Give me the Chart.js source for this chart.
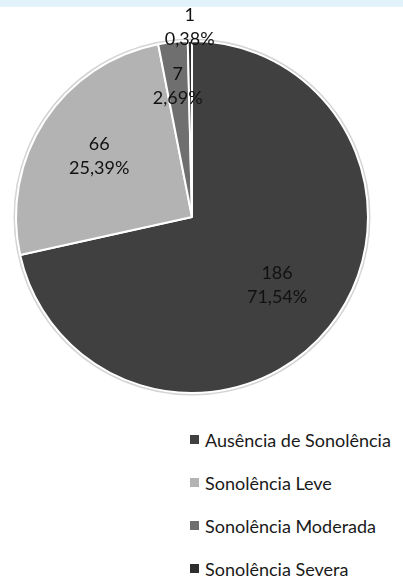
<!DOCTYPE html>
<html>
<head>
<meta charset="utf-8">
<script src="https://cdn.jsdelivr.net/npm/chart.js@4.4.1/dist/chart.umd.min.js"></script>
<style>
  body { margin: 0; background: #fff; width: 403px; height: 577px; overflow: hidden; position: relative; font-family: Lato, "Open Sans", sans-serif; }
  #faixa { position: absolute; left: 0; top: 0; width: 403px; height: 7px; background: #e1f2fb; }
  #caixa { position: absolute; left: 0; top: 0; width: 403px; height: 410px; }
  #legenda { position: absolute; left: 190px; top: 418px; }
  .item { height: 43px; display: flex; align-items: center; font-size: 18px; color: #1a1a1a; white-space: nowrap; }
  .quad { width: 9px; height: 9px; margin-right: 6px; }
</style>
</head>
<body>
<div id="caixa"><canvas id="pizza" width="403" height="410"></canvas></div>
<div id="faixa"></div>
<div id="legenda"></div>
<script>
// dados
const categorias = ["Ausência de Sonolência", "Sonolência Leve", "Sonolência Moderada", "Sonolência Severa"];
const valores = [186, 66, 7, 1];
const percentuais = ["71,54%", "25,39%", "2,69%", "0,38%"];
const cores = ["#404040", "#b3b3b3", "#6f6f6f", "#2e2e2e"];

// distância do rótulo ao centro (fração do raio)
const posRotulo = [0.62, 0.63, 0.75, 1.08];

/* --- rótulos de valor + percentual --- */
const rotulos = {
  id: "rotulos",
  afterDatasetsDraw(chart) {
    const ctx = chart.ctx;
    const meta = chart.getDatasetMeta(0);
    ctx.save();
    ctx.font = "18px Lato";
    ctx.fillStyle = "#111";
    ctx.textAlign = "center";
    ctx.textBaseline = "middle";
    meta.data.forEach((arc, i) => {
      const a = (arc.startAngle + arc.endAngle) / 2;
      const r = arc.outerRadius * posRotulo[i];
      const x = arc.x + Math.cos(a) * r;
      const y = arc.y + Math.sin(a) * r;
      ctx.fillText(String(valores[i]), x, y - 12);
      ctx.fillText(percentuais[i], x, y + 12);
    });
    ctx.restore();
  }
};

/* --- contorno claro em volta da pizza --- */
const contorno = {
  id: "contorno",
  beforeDatasetsDraw(chart) {
    const arc = chart.getDatasetMeta(0).data[0];
    const ctx = chart.ctx;
    ctx.save();
    ctx.beginPath();
    ctx.arc(arc.x, arc.y, arc.outerRadius + 1.5, 0, Math.PI * 2);
    ctx.strokeStyle = "#d4d4d4";
    ctx.lineWidth = 2;
    ctx.stroke();
    ctx.restore();
  }
};

new Chart(document.getElementById("pizza"), {
  type: "pie",
  data: {
    labels: categorias,
    datasets: [{
      data: valores,
      backgroundColor: cores,
      borderColor: "#ffffff",
      borderWidth: 2
    }]
  },
  options: {
    responsive: false,
    animation: false,
    layout: { padding: { left: 15, top: 40, right: 34, bottom: 16 } },
    plugins: {
      legend: { display: false },
      tooltip: { enabled: false }
    }
  },
  plugins: [contorno, rotulos]
});

/* --- legenda --- */
const legenda = document.getElementById("legenda");
categorias.forEach((nome, i) => {
  const item = document.createElement("div");
  item.className = "item";
  item.innerHTML = `<span class="quad" style="background:${cores[i]}"></span>${nome}`;
  legenda.appendChild(item);
});
</script>
</body>
</html>
